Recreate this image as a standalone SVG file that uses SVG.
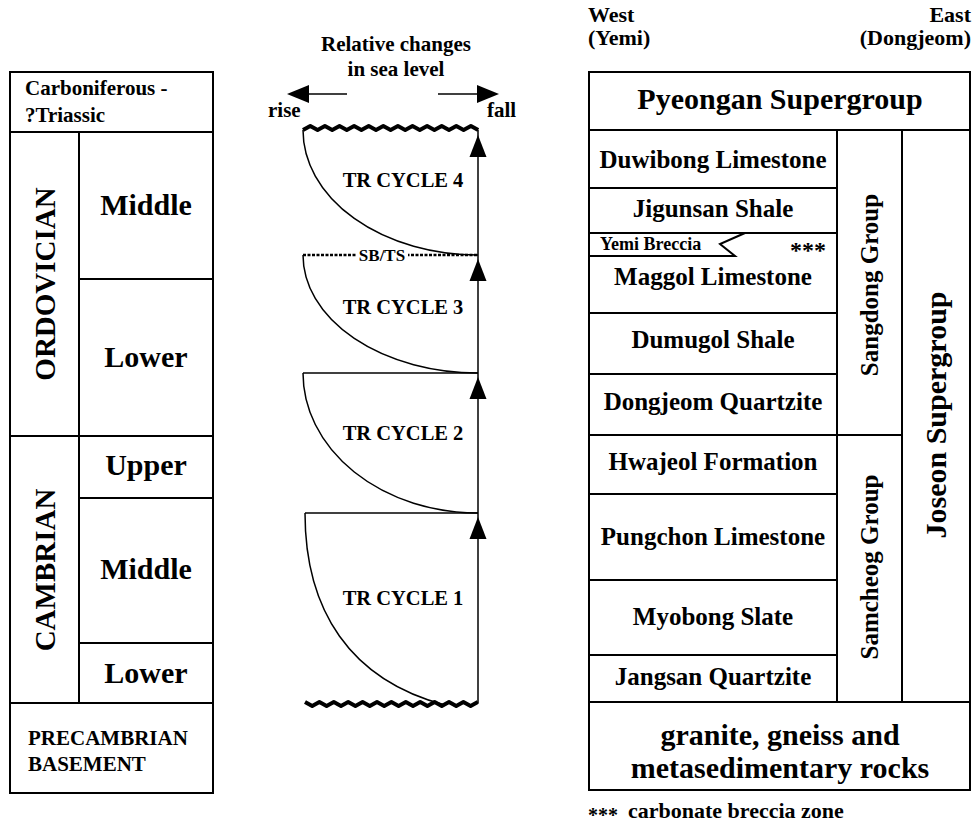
<svg xmlns="http://www.w3.org/2000/svg" width="977" height="825" viewBox="0 0 977 825">
<style>
text{font-family:"Liberation Serif","Times New Roman",serif;font-weight:bold;fill:#000}
.b{fill:none;stroke:#000;stroke-width:2}
.t21{font-size:21px}
.t30{font-size:30px}
.t29{font-size:29px}
.t25{font-size:25px}
.t20{font-size:20.5px}
.m{text-anchor:middle}
.e{text-anchor:end}
.ln{stroke:#000;stroke-width:1.5;fill:none}
.wv{stroke:#000;stroke-width:4;fill:none;stroke-linejoin:round}
</style>
<defs>
<path id="ah" d="M0,0 L8.5,22 L-8.5,22 Z" fill="#000"/>
</defs>

<!-- LEFT: time scale -->
<g id="timescale">
<rect class="b" x="10" y="72" width="203" height="721"/>
<line class="b" x1="10" y1="132" x2="213" y2="132"/>
<line class="b" x1="79" y1="132" x2="79" y2="703"/>
<line class="b" x1="79" y1="279" x2="213" y2="279"/>
<line class="b" x1="10" y1="436" x2="213" y2="436"/>
<line class="b" x1="79" y1="498" x2="213" y2="498"/>
<line class="b" x1="79" y1="643" x2="213" y2="643"/>
<line class="b" x1="10" y1="703" x2="213" y2="703"/>
</g>
<g id="carb"><text class="t21" x="25" y="95">Carboniferous -</text><text class="t21" x="25" y="122">?Triassic</text></g>
<g id="ordovician"><text class="t29 m" transform="translate(55,284) rotate(-90)">ORDOVICIAN</text></g>
<g id="ord-middle"><text class="t30 m" x="146" y="215">Middle</text></g>
<g id="ord-lower"><text class="t30 m" x="146" y="367">Lower</text></g>
<g id="cambrian"><text class="t29 m" transform="translate(55,570) rotate(-90)">CAMBRIAN</text></g>
<g id="cam-upper"><text class="t30 m" x="146" y="475">Upper</text></g>
<g id="cam-middle"><text class="t30 m" x="146" y="579">Middle</text></g>
<g id="cam-lower"><text class="t30 m" x="146" y="683">Lower</text></g>
<g id="precambrian"><text class="t21" x="28" y="745">PRECAMBRIAN</text><text class="t21" x="28" y="771">BASEMENT</text></g>

<!-- MIDDLE: sea level -->
<g id="sea-title">
<text class="t21 m" x="396" y="51">Relative changes</text>
<text class="t21 m" x="396" y="76">in sea level</text>
<line class="ln" x1="306" y1="94" x2="347" y2="94" stroke-width="2"/>
<path d="M287,94 L309,85 L309,103 Z" fill="#000"/>
<line class="ln" x1="438" y1="94" x2="479" y2="94" stroke-width="2"/>
<path d="M499,94 L477,85 L477,103 Z" fill="#000"/>
<text class="t21" x="268" y="117">rise</text>
<text class="t21" x="487" y="117">fall</text>
</g>
<g id="connectors">
<path class="wv" d="M303,130 l7.3,-4 l7.3,4 l7.3,-4 l7.3,4 l7.3,-4 l7.3,4 l7.3,-4 l7.3,4 l7.3,-4 l7.3,4 l7.3,-4 l7.3,4 l7.3,-4 l7.3,4 l7.3,-4 l7.3,4 l7.3,-4 l7.3,4 l7.3,-4 l7.3,4 l7.3,-4 l7.3,4 l7.3,-4 l7.3,4"/>
<path class="wv" d="M305,702 l7.2,4 l7.2,-4 l7.2,4 l7.2,-4 l7.2,4 l7.2,-4 l7.2,4 l7.2,-4 l7.2,4 l7.2,-4 l7.2,4 l7.2,-4 l7.2,4 l7.2,-4 l7.2,4 l7.2,-4 l7.2,4 l7.2,-4 l7.2,4 l7.2,-4 l7.2,4 l7.2,-4 l7.2,4 l7.2,-4"/>
<line class="ln" x1="478" y1="703" x2="478" y2="130"/>
<use href="#ah" x="478" y="135"/>
<use href="#ah" x="478" y="259"/>
<use href="#ah" x="478" y="377"/>
<use href="#ah" x="478" y="517"/>
<path class="ln" d="M303,130 A175,125 0 0 0 478,255"/>
<path class="ln" d="M303,255 A175,118 0 0 0 478,373"/>
<path class="ln" d="M303,373 A175,140 0 0 0 478,513"/>
<path class="ln" d="M305,513 C305,610 350,680 445,705"/>
<line class="ln" x1="303" y1="373" x2="478" y2="373"/>
<line class="ln" x1="305" y1="513" x2="478" y2="513"/>
<line x1="303" y1="255" x2="478" y2="255" stroke="#000" stroke-width="2.5" stroke-dasharray="3,1.5"/>
</g>
<g id="sbts"><rect x="356" y="246" width="52" height="18" fill="#fff"/><text x="382" y="261" class="m" font-size="17">SB/TS</text></g>
<g id="cycle4"><text class="t20 m" x="403" y="187">TR CYCLE 4</text></g>
<g id="cycle3"><text class="t20 m" x="403" y="314">TR CYCLE 3</text></g>
<g id="cycle2"><text class="t20 m" x="403" y="440">TR CYCLE 2</text></g>
<g id="cycle1"><text class="t20 m" x="403" y="605">TR CYCLE 1</text></g>

<!-- RIGHT: lithostratigraphy -->
<g id="header">
<text font-size="22" x="588" y="22">West</text>
<text font-size="22" x="588" y="45">(Yemi)</text>
<text font-size="22" class="e" x="971" y="22">East</text>
<text font-size="22" class="e" x="971" y="45">(Dongjeom)</text>
</g>
<g id="litho-frame">
<rect class="b" x="589" y="72" width="381" height="718"/>
<line class="b" x1="589" y1="130" x2="970" y2="130"/>
<line class="b" x1="837" y1="130" x2="837" y2="702"/>
<line class="b" x1="902" y1="130" x2="902" y2="702"/>
<line class="b" x1="589" y1="702" x2="970" y2="702"/>
<line class="b" x1="589" y1="188" x2="837" y2="188"/>
<line class="b" x1="589" y1="233" x2="837" y2="233"/>
<path class="b" d="M745,233 L720,244 L735,256 L589,256"/>
<line class="b" x1="589" y1="313" x2="837" y2="313"/>
<line class="b" x1="589" y1="374" x2="837" y2="374"/>
<line class="b" x1="589" y1="435" x2="902" y2="435"/>
<line class="b" x1="589" y1="494" x2="837" y2="494"/>
<line class="b" x1="589" y1="580" x2="837" y2="580"/>
<line class="b" x1="589" y1="655" x2="837" y2="655"/>
</g>
<g id="pyeongan"><text class="t30 m" x="780" y="109">Pyeongan Supergroup</text></g>
<g id="duwibong"><text class="t25 m" x="713" y="168">Duwibong Limestone</text></g>
<g id="jigunsan"><text class="t25 m" x="713" y="217">Jigunsan Shale</text></g>
<g id="yemi"><text font-size="18" x="600" y="250">Yemi Breccia</text><text font-size="24" x="790" y="258">***</text></g>
<g id="maggol"><text class="t25 m" x="713" y="285">Maggol Limestone</text></g>
<g id="dumugol"><text class="t25 m" x="713" y="348">Dumugol Shale</text></g>
<g id="dongjeom"><text class="t25 m" x="713" y="410">Dongjeom Quartzite</text></g>
<g id="hwajeol"><text class="t25 m" x="713" y="470">Hwajeol Formation</text></g>
<g id="pungchon"><text class="t25 m" x="713" y="545">Pungchon Limestone</text></g>
<g id="myobong"><text class="t25 m" x="713" y="625">Myobong Slate</text></g>
<g id="jangsan"><text class="t25 m" x="713" y="685">Jangsan Quartzite</text></g>
<g id="sangdong"><text class="t25 m" transform="translate(878,285) rotate(-90)">Sangdong Group</text></g>
<g id="samcheog"><text class="t25 m" transform="translate(878,567) rotate(-90)">Samcheog Group</text></g>
<g id="joseon"><text class="m" font-size="30" transform="translate(946,415) rotate(-90)">Joseon Supergroup</text></g>
<g id="basement"><text class="t30 m" x="780" y="745">granite, gneiss and</text><text class="t30 m" x="780" y="778">metasedimentary rocks</text></g>
<g id="legend"><text font-size="20" x="588" y="822">***</text><text font-size="22" x="628" y="818">carbonate breccia zone</text></g>
</svg>
